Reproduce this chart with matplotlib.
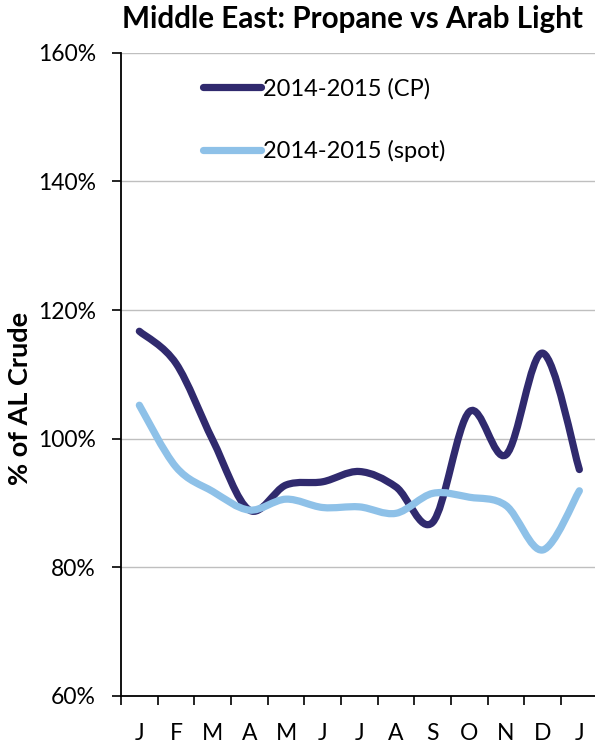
import matplotlib
matplotlib.use("Agg")
import matplotlib.pyplot as plt
from matplotlib.path import Path
from matplotlib.patches import PathPatch
from matplotlib.lines import Line2D
from matplotlib.ticker import FuncFormatter, MultipleLocator

months = ["J", "F", "M", "A", "M", "J", "J", "A", "S", "O", "N", "D", "J"]
cp_values = [116.7, 111.7, 99.8, 88.9, 92.8, 93.3, 94.9, 92.5, 87.0, 104.2, 97.5, 113.3, 95.2]
spot_values = [105.2, 95.6, 91.8, 88.9, 90.6, 89.3, 89.4, 88.4, 91.5, 90.9, 89.6, 82.7, 91.9]
series_labels = ["2014-2015 (CP)", "2014-2015 (spot)"]
title = "Middle East: Propane vs Arab Light"
ylabel = "% of AL Crude"

dark = "#302A6E"
light = "#8EC1E8"
font = "Lato"

plt.rcParams['font.family'] = [font, 'DejaVu Sans']

fig = plt.figure(figsize=(5.95, 7.44), dpi=100)
ax = fig.add_axes([121/595, 1 - 696/744, 476.7/595, (696 - 52.7)/744])


def smooth_path(xs, ys):
    pts = list(zip(xs, ys))
    n = len(pts)
    verts = [pts[0]]
    codes = [Path.MOVETO]
    for i in range(n - 1):
        p0 = pts[i - 1] if i > 0 else pts[i]
        p1 = pts[i]
        p2 = pts[i + 1]
        p3 = pts[i + 2] if i + 2 < n else pts[i + 1]
        c1 = (p1[0] + (p2[0] - p0[0]) / 6, p1[1] + (p2[1] - p0[1]) / 6)
        c2 = (p2[0] - (p3[0] - p1[0]) / 6, p2[1] - (p3[1] - p1[1]) / 6)
        verts += [c1, c2, p2]
        codes += [Path.CURVE4] * 3
    return Path(verts, codes)


xs = list(range(len(months)))
for vals, col in [(cp_values, dark), (spot_values, light)]:
    patch = PathPatch(smooth_path(xs, vals), facecolor="none", edgecolor=col,
                      lw=5.2, capstyle="round", joinstyle="round", zorder=3)
    ax.add_patch(patch)

ax.set_xlim(-0.5, len(months) - 0.5)
ax.set_ylim(60, 160)
ax.yaxis.set_major_locator(MultipleLocator(20))
ax.yaxis.set_major_formatter(FuncFormatter(lambda v, p: f"{int(round(v))}%"))
ax.set_xticks(xs)
ax.set_xticklabels(months)
ax.set_xticks([x - 0.5 for x in xs] + [len(months) - 0.5], minor=True)
ax.tick_params(axis="x", which="major", length=0, pad=19.5, labelsize=16.5)
ax.tick_params(axis="x", which="minor", length=6.5, width=1.2, direction="out")
ax.tick_params(axis="y", length=6.5, width=1.2, direction="out", labelsize=16.5, pad=11.5)

ax.grid(axis="y", color="#BFBFBF", lw=1.0, zorder=0)
ax.set_axisbelow(True)
for s in ["top", "right"]:
    ax.spines[s].set_visible(False)
for s in ["left", "bottom"]:
    ax.spines[s].set_linewidth(1.3)
    ax.spines[s].set_color("black")
ax.spines["bottom"].set_zorder(4)

fig.text(20/595, 1 - 398/744, ylabel, rotation=90, ha="center", va="center",
         fontsize=19.5, fontweight="bold")
fig.text(352/595, 1 - 19/744, title, ha="center", va="center", fontsize=21.3, fontweight="bold")

handles = [Line2D([], [], color=dark, lw=5.2, solid_capstyle="round"),
           Line2D([], [], color=light, lw=5.2, solid_capstyle="round")]
leg = ax.legend(handles, series_labels, loc="center left",
                bbox_to_anchor=(203/595, 1 - 120/744), bbox_transform=fig.transFigure,
                frameon=False, fontsize=17, handlelength=2.45, handletextpad=0.1,
                labelspacing=1.7, borderaxespad=0, borderpad=0)

fig.savefig("out.png", dpi=100)
